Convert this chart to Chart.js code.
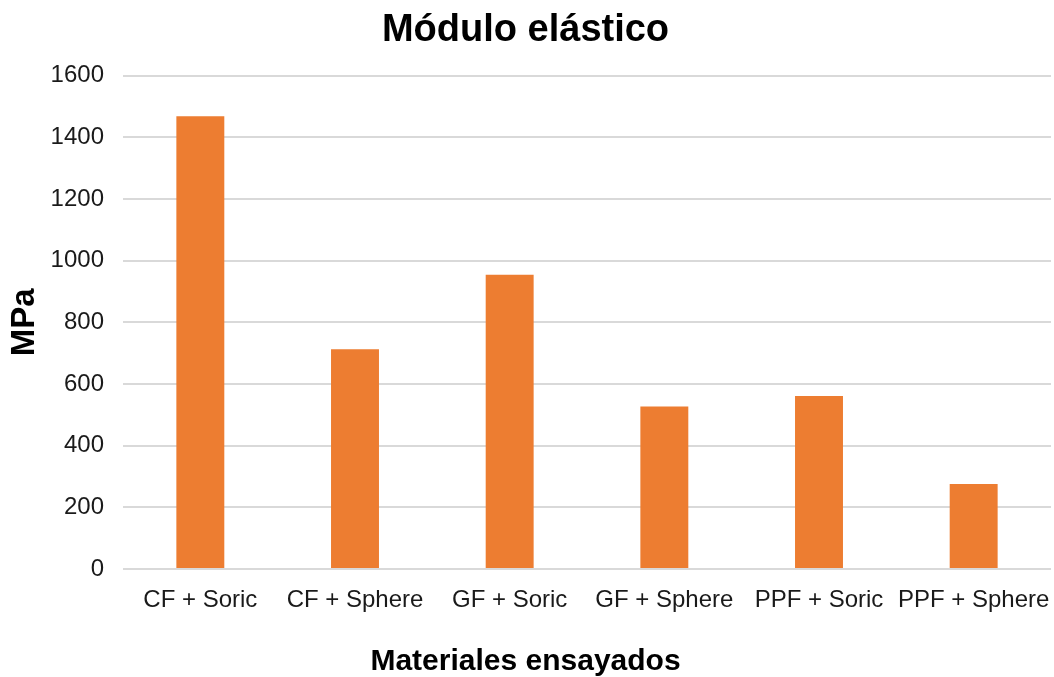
<!DOCTYPE html>
<html>
<head>
<meta charset="utf-8">
<script src="https://cdn.jsdelivr.net/npm/chart.js@4"></script>
<style>
  html, body { margin: 0; padding: 0; background: #fff; }
  canvas { display: block; }
</style>
</head>
<body>
<canvas id="chart" width="1054" height="677"></canvas>
<script>
// data
const categories = ['CF + Soric', 'CF + Sphere', 'GF + Soric', 'GF + Sphere', 'PPF + Soric', 'PPF + Sphere'];
const moduloValues = [1468, 713, 954, 527, 561, 276];
const yTicks = [0, 200, 400, 600, 800, 1000, 1200, 1400, 1600];

const font = 'Arial, "Liberation Sans", sans-serif';

const config = {
  type: 'bar',
  data: {
    labels: categories,
    datasets: [
      {
        label: 'Módulo elástico',
        data: moduloValues,
        backgroundColor: '#ED7D31',
        borderWidth: 0,
        barPercentage: 0.31,
        categoryPercentage: 1,
      },
    ],
  },
  options: {
    responsive: false,
    animation: false,
    layout: { padding: { left: 0, right: 3, top: 0, bottom: 0 } },
    plugins: {
      legend: { display: false },
      tooltip: { enabled: false },
      title: {
        display: true,
        text: 'Módulo elástico',
        color: '#000',
        font: { family: font, size: 38, weight: 'bold', lineHeight: 1.2 },
        padding: { top: 8, bottom: 22 },
      },
      // x axis title drawn as a full-width subtitle so it centres on the whole chart
      subtitle: {
        display: true,
        position: 'bottom',
        text: 'Materiales ensayados',
        color: '#000',
        font: { family: font, size: 30, weight: 'bold', lineHeight: 1 },
        padding: { top: 0, bottom: 0 },
      },
    },
    scales: {
      x: {
        grid: { display: false },
        border: { display: false },
        ticks: { color: '#1a1a1a', font: { family: font, size: 24 }, padding: 9, maxRotation: 0 },
        afterFit: (scale) => {
          scale.height = 78;
          scale.paddingLeft = 0;
          scale.paddingRight = 0;
        },
      },
      y: {
        min: 0,
        max: 1600,
        afterBuildTicks: (scale) => { scale.ticks = yTicks.map((v) => ({ value: v })); },
        grid: { color: '#D9D9D9', lineWidth: 2, drawTicks: false },
        border: { display: false },
        ticks: {
          color: '#1a1a1a',
          font: { family: font, size: 24 },
          padding: 19,
          callback: (v) => String(v),
        },
        title: {
          display: true,
          text: 'MPa',
          color: '#000',
          font: { family: font, size: 33, weight: 'bold', lineHeight: 1.2 },
          padding: { top: 5, bottom: 0 },
        },
        afterFit: (scale) => { scale.width = 123; },
      },
    },
  },
};

new Chart(document.getElementById('chart'), config);
</script>
</body>
</html>
